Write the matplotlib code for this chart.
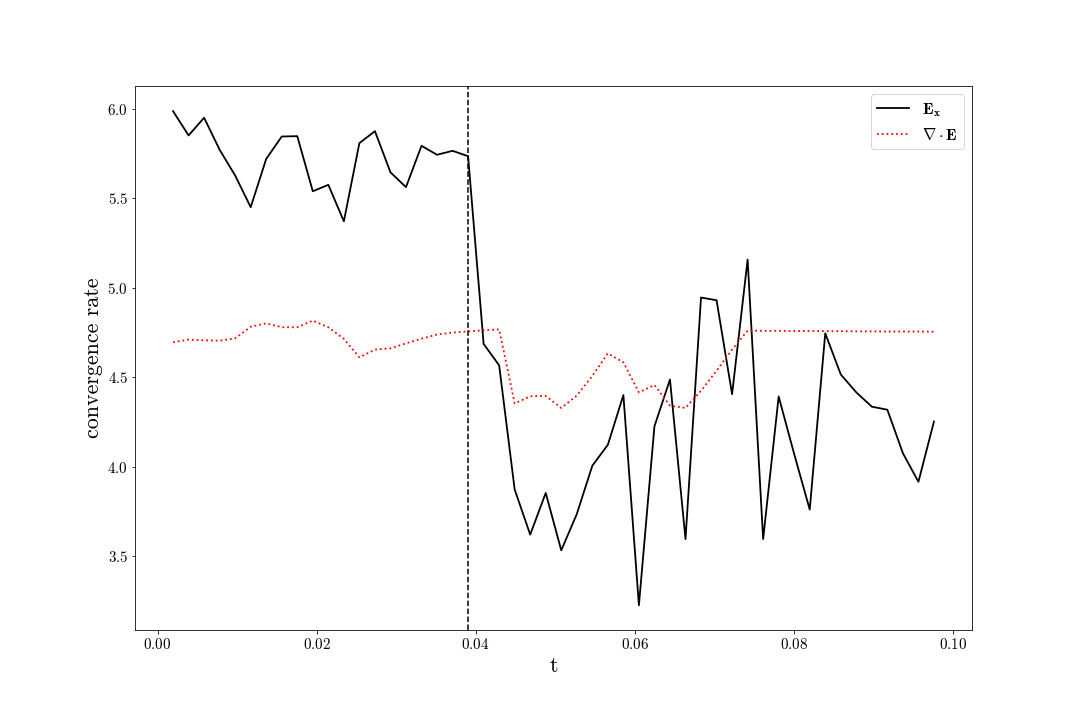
import numpy as np
import matplotlib
matplotlib.use("Agg")
import matplotlib.pyplot as plt

plt.rcParams['font.family'] = 'serif'
plt.rcParams['font.serif'] = ['cmr10']
plt.rcParams['mathtext.fontset'] = 'cm'
plt.rcParams['axes.formatter.use_mathtext'] = True
plt.rcParams['axes.unicode_minus'] = False

# time steps t = k/512
steps = np.arange(1, 51)
t = steps / 512.0

ex_rate = [5.987, 5.851, 5.950, 5.771, 5.627, 5.450, 5.720, 5.845, 5.847, 5.539,
           5.575, 5.371, 5.808, 5.875, 5.645, 5.562, 5.793, 5.743, 5.765, 5.735,
           4.686, 4.566, 3.872, 3.620, 3.853, 3.532, 3.735, 4.005, 4.122, 4.400,
           3.225, 4.225, 4.487, 3.595, 4.945, 4.930, 4.405, 5.157, 3.595, 4.392,
           4.070, 3.760, 4.745, 4.515, 4.415, 4.335, 4.318, 4.075, 3.915, 4.252]

div_rate = [4.695, 4.710, 4.706, 4.704, 4.717, 4.782, 4.801, 4.779, 4.779, 4.816,
            4.779, 4.714, 4.611, 4.654, 4.661, 4.689, 4.715, 4.738, 4.749, 4.756,
            4.762, 4.767, 4.353, 4.393, 4.395, 4.328, 4.397, 4.507, 4.633, 4.583,
            4.415, 4.456, 4.341, 4.328, 4.424, 4.536, 4.654, 4.760, 4.759, 4.759,
            4.758, 4.758, 4.757, 4.757, 4.756, 4.756, 4.755, 4.755, 4.755, 4.754]

t_switch = 20 / 512.0

fig, ax = plt.subplots(figsize=(15, 10), dpi=72)
fig.subplots_adjust(left=0.125, right=0.9, bottom=0.125, top=0.88)
ax.plot(t, ex_rate, color='k', linestyle='-', linewidth=1.8, label=r'$\mathbf{E_x}$')
ax.plot(t, div_rate, color='r', linestyle=':', linewidth=1.8, label=r'$\nabla \cdot \mathbf{E}$')
ax.axvline(t_switch, color='k', linestyle='--', linewidth=1.5)

ax.set_xlabel('t', fontsize=22)
ax.set_ylabel('convergence rate', fontsize=22)
ax.tick_params(labelsize=15)
ax.legend(loc='upper right', fontsize=16)

fig.savefig('out.png', dpi=72)
